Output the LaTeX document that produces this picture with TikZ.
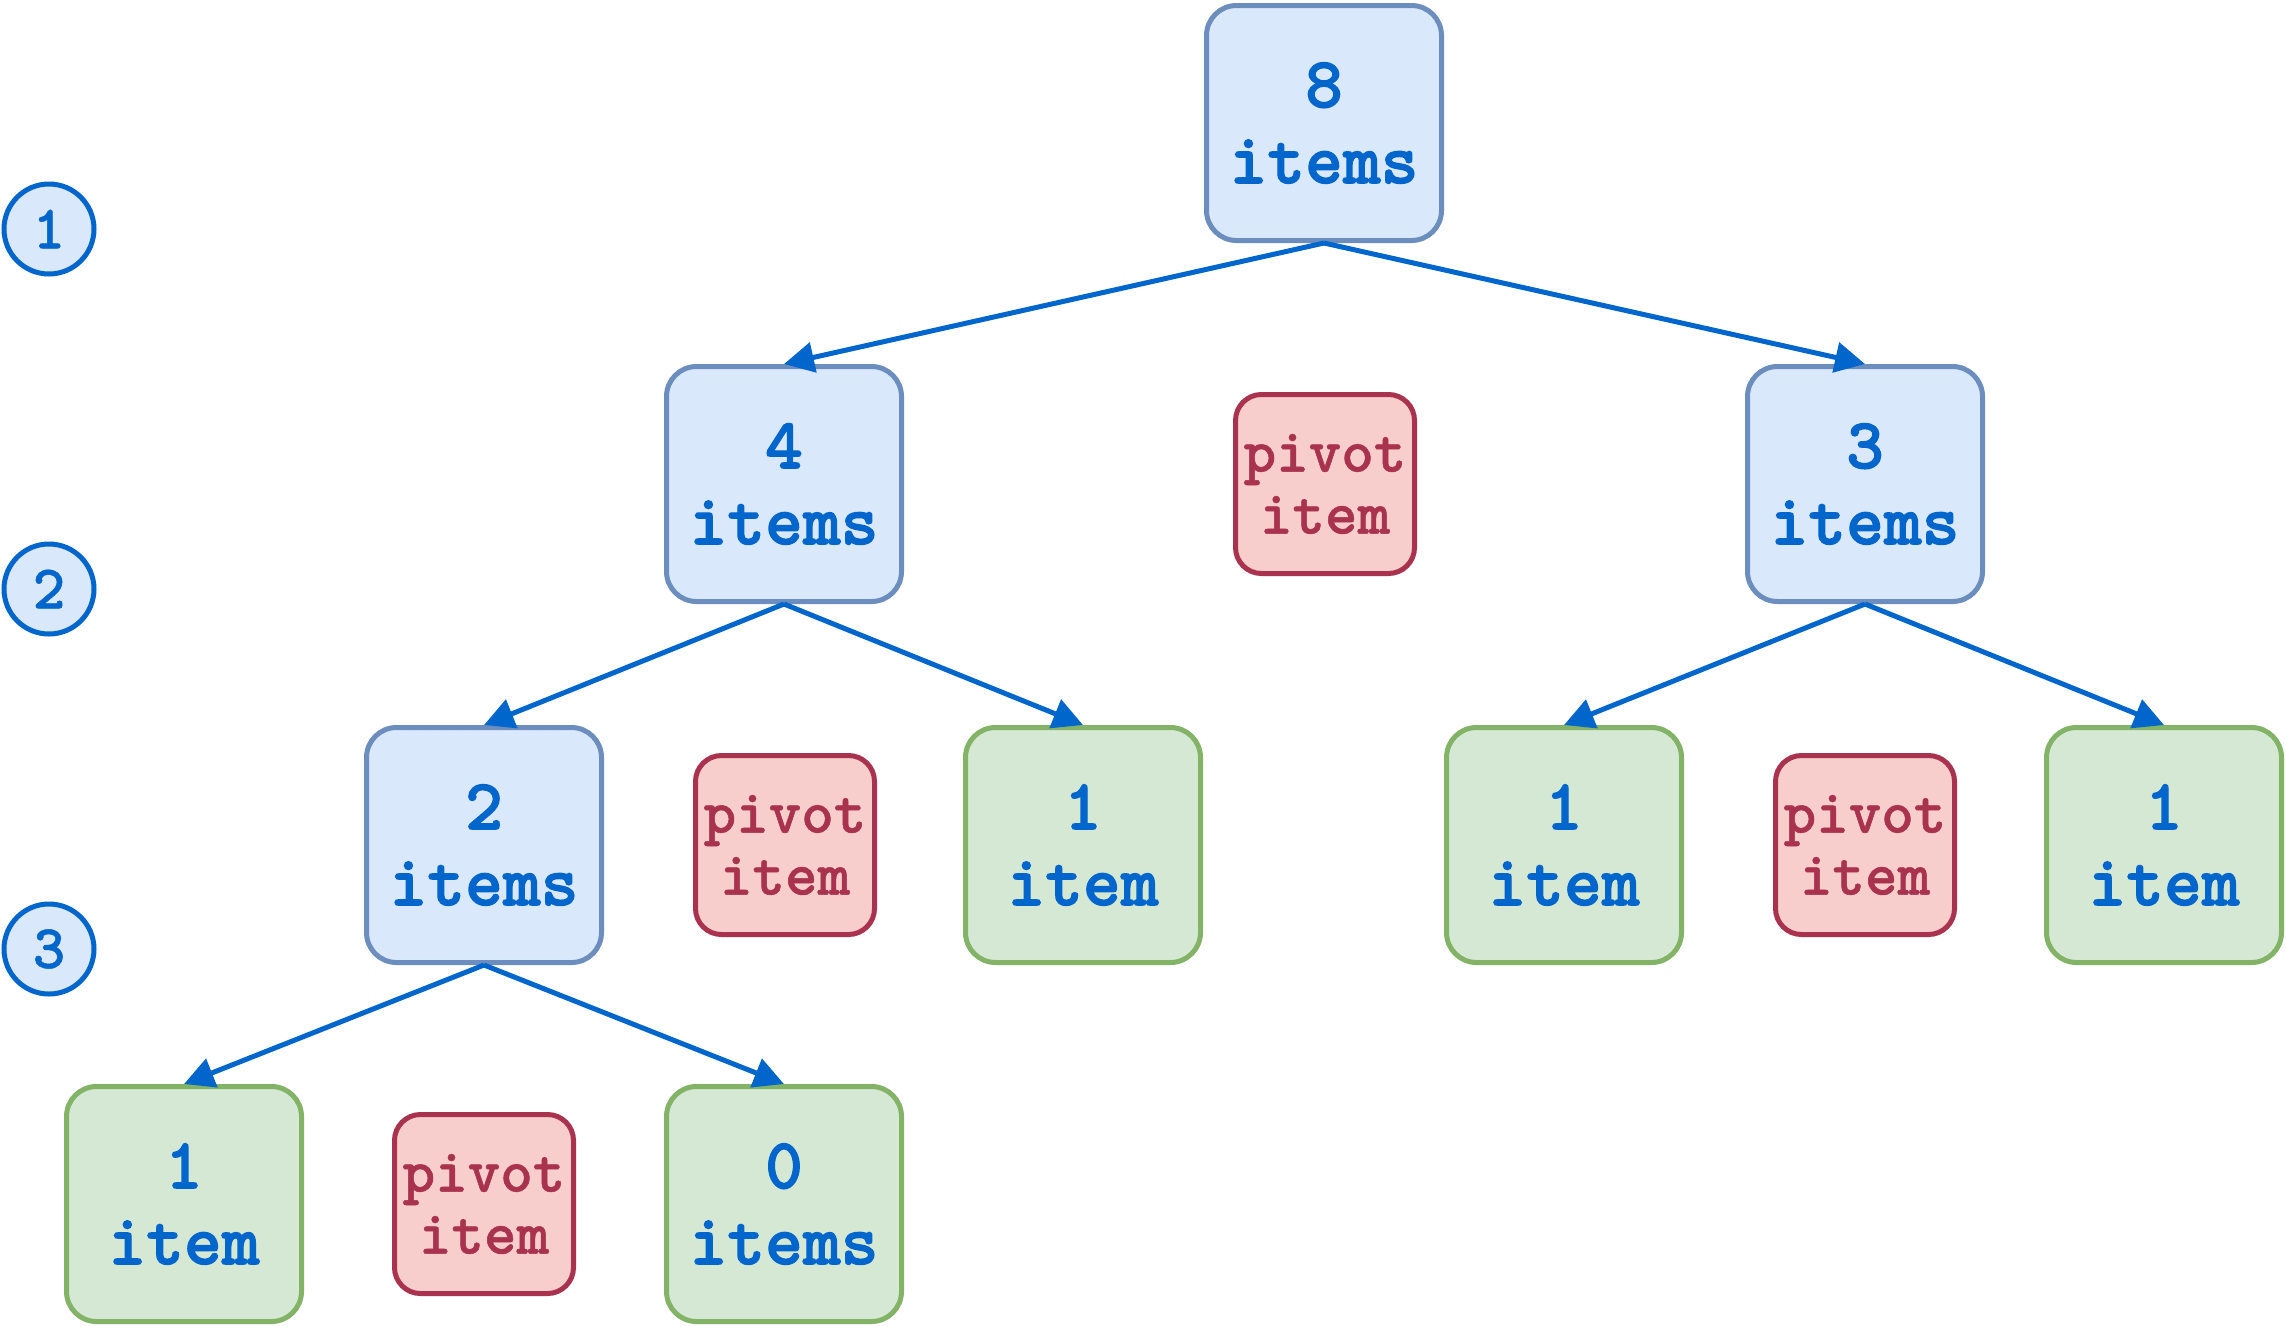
\documentclass[tikz,border=0pt]{standalone}
\usepackage{fontspec}
\newfontfamily\cmonob{lmmonolt10-bold.otf}
\newfontfamily\cmonobm[FakeBold=0.8]{lmmonolt10-bold.otf}
\newfontfamily\cmonobb[FakeBold=1.6]{lmmonolt10-bold.otf}
\usetikzlibrary{arrows.meta}
\definecolor{bfill}{HTML}{DAE8FC}
\definecolor{bdraw}{HTML}{6C8EBF}
\definecolor{gfill}{HTML}{D5E8D4}
\definecolor{gdraw}{HTML}{82B366}
\definecolor{rfill}{HTML}{F8CECC}
\definecolor{rdraw}{HTML}{A9334F}
\definecolor{tblue}{HTML}{0066CC}
\tikzset{
  bigtext/.style={font=\cmonobb\fontsize{72}{76}\selectfont, text=tblue, align=center},
  bluebox/.style={bigtext, draw=bdraw, fill=bfill, line width=5pt, rounded corners=30pt, minimum width=235pt, minimum height=235pt, inner sep=0pt},
  greenbox/.style={bluebox, draw=gdraw, fill=gfill},
  pivotbox/.style={draw=rdraw, fill=rfill, line width=5pt, rounded corners=26pt, minimum width=179pt, minimum height=179pt, inner sep=0pt, text=rdraw, font=\cmonobm\fontsize{62}{62}\selectfont, align=center},
  levelc/.style={circle, draw=tblue, fill=bfill, line width=5pt, minimum size=90pt, inner sep=0pt, text=tblue, font=\cmonobm\fontsize{62}{62}\selectfont},
  link/.style={draw=tblue, line width=5pt, -{Triangle[length=30pt,width=30pt]}}
}
\begin{document}
\begin{tikzpicture}[x=1pt,y=-1pt]
\useasboundingbox (0,0) rectangle (2286,1326);
% level markers
\node[levelc] (c1) at (49,229) {1};
\node[levelc] (c2) at (49,589) {2};
\node[levelc] (c3) at (49,949) {3};
% level 1
\node[bluebox] (n8) at (1324,123) {8\\items};
% level 2
\node[bluebox] (n4) at (784,484) {4\\items};
\node[pivotbox] (p1) at (1325,484) {pivot\\item};
\node[bluebox] (n3) at (1865,484) {3\\items};
% level 3
\node[bluebox] (n2) at (484,845) {2\\items};
\node[pivotbox] (p2) at (785,845) {pivot\\item};
\node[greenbox] (g1) at (1083,845) {1\\item};
\node[greenbox] (g2) at (1564,845) {1\\item};
\node[pivotbox] (p3) at (1865,845) {pivot\\item};
\node[greenbox] (g3) at (2164,845) {1\\item};
% level 4
\node[greenbox] (g4) at (184,1204) {1\\item};
\node[pivotbox] (p4) at (484,1204) {pivot\\item};
\node[greenbox] (g5) at (784,1204) {0\\items};
% connectors
\draw[link] (n8.south) -- (n4.north);
\draw[link] (n8.south) -- (n3.north);
\draw[link] (n4.south) -- (n2.north);
\draw[link] (n4.south) -- (g1.north);
\draw[link] (n3.south) -- (g2.north);
\draw[link] (n3.south) -- (g3.north);
\draw[link] (n2.south) -- (g4.north);
\draw[link] (n2.south) -- (g5.north);
\end{tikzpicture}
\end{document}
